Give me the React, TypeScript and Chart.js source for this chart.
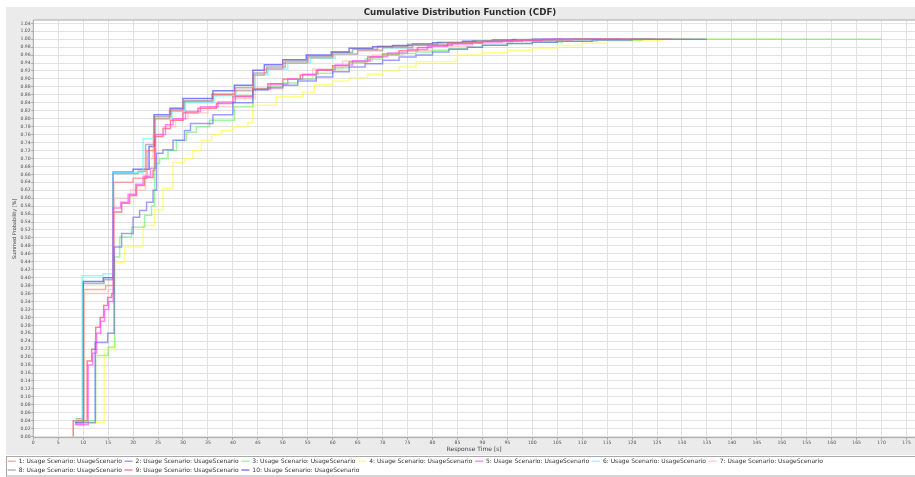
import React, { useEffect, useRef } from "react";
import { Chart, registerables } from "chart.js";

Chart.register(...registerables);

// Empirical CDF steps per usage scenario: [response time (s), cumulative probability]
const scenario1: [number, number][] = [
  [8.4, 0.04], [10.1, 0.37], [14.5, 0.38], [16.1, 0.64], [20.0, 0.65], [22.8, 0.72], [24.3, 0.8],
  [27.3, 0.82], [30.0, 0.843], [36.0, 0.86], [40.3, 0.87], [44.0, 0.91], [46.3, 0.925], [50, 0.94],
  [55, 0.953], [60, 0.963], [65, 0.972], [70, 0.979], [76, 0.985], [83, 0.991], [90, 0.995],
  [98, 0.998], [108, 1.0], [128, 1.0],
];
const scenario2: [number, number][] = [
  [8.5, 0.035], [12.4, 0.237], [14.9, 0.26], [16.2, 0.477], [17.7, 0.511], [20.0, 0.552], [21.3, 0.569],
  [22.7, 0.59], [24.0, 0.62], [24.7, 0.713], [26, 0.722], [28, 0.746], [30.3, 0.77], [31.5, 0.788],
  [36, 0.81], [40, 0.84], [44, 0.872], [47, 0.878], [50, 0.884], [53, 0.895], [56.7, 0.905],
  [60, 0.918], [63.3, 0.93], [66.5, 0.938], [70, 0.947], [73.3, 0.955], [76.7, 0.96], [80, 0.968],
  [83.3, 0.975], [87, 0.98], [90, 0.985], [95, 0.989], [100, 0.992], [105, 0.995], [112, 0.998],
  [120, 1.0], [135, 1.0],
];
const scenario3: [number, number][] = [
  [8.6, 0.04], [12.5, 0.204], [15.0, 0.225], [16.3, 0.452], [17.3, 0.502], [19.7, 0.527], [22.3, 0.557],
  [23.7, 0.58], [24.3, 0.687], [25.3, 0.7], [27, 0.72], [28.7, 0.745], [30.7, 0.766], [32.7, 0.78],
  [35.3, 0.796], [40.3, 0.83], [44, 0.874], [47, 0.882], [50, 0.89], [53, 0.9], [56.7, 0.914],
  [60, 0.928], [63.3, 0.94], [66.5, 0.95], [70, 0.96], [73.3, 0.964], [76.7, 0.968], [80, 0.972],
  [83.3, 0.976], [87, 0.98], [90, 0.985], [95, 0.989], [100, 0.992], [106, 0.995], [113, 0.998],
  [122, 1.0], [170, 1.0],
];
const scenario4: [number, number][] = [
  [8.8, 0.035], [14.2, 0.22], [16.3, 0.439], [18.3, 0.477], [22.0, 0.531], [24.3, 0.57], [26.0, 0.625],
  [28.0, 0.69], [30.3, 0.7], [32.0, 0.72], [33.7, 0.746], [35.7, 0.76], [37.7, 0.77], [40, 0.779],
  [43, 0.79], [44, 0.834], [48.7, 0.855], [54, 0.867], [56.3, 0.886], [60, 0.895], [63.3, 0.903],
  [67, 0.912], [70, 0.92], [73.3, 0.93], [76.7, 0.943], [84.7, 0.948], [85, 0.96], [90, 0.966],
  [95, 0.972], [100, 0.978], [105, 0.984], [110, 0.99], [115, 0.994], [120, 0.997], [126, 1.0],
  [150, 1.0],
];
const scenario5: [number, number][] = [
  [8.3, 0.03], [11.0, 0.18], [11.9, 0.21], [12.7, 0.26], [13.5, 0.29], [14.3, 0.32], [15.1, 0.34],
  [16.0, 0.575], [17.5, 0.59], [19.0, 0.61], [20.5, 0.635], [22.0, 0.655], [23.5, 0.675], [24.5, 0.76],
  [26.5, 0.785], [28, 0.8], [30.5, 0.818], [33.5, 0.83], [37, 0.842], [40.5, 0.858], [44, 0.874],
  [47.5, 0.887], [51, 0.9], [54, 0.912], [57, 0.923], [60.5, 0.935], [64, 0.946], [67.5, 0.956],
  [71, 0.965], [75, 0.974], [79, 0.982], [83, 0.988], [88, 0.993], [94, 0.997], [102, 1.0], [120, 1.0],
];
const scenario6: [number, number][] = [
  [8.2, 0.04], [9.8, 0.405], [14.0, 0.41], [16.0, 0.665], [22.0, 0.75], [24.5, 0.8], [27.8, 0.818],
  [30.5, 0.84], [36.2, 0.858], [40.6, 0.872], [44.5, 0.91], [47, 0.925], [51, 0.94], [55.5, 0.952],
  [60.5, 0.962], [65, 0.97], [70, 0.978], [76, 0.985], [82, 0.99], [89, 0.995], [97, 0.998],
  [106, 1.0], [125, 1.0],
];
const scenario7: [number, number][] = [
  [8.6, 0.03], [10.2, 0.36], [15.0, 0.37], [16.2, 0.6], [19.5, 0.62], [22.5, 0.7], [24.0, 0.76],
  [26.0, 0.78], [28.5, 0.8], [31, 0.815], [35, 0.83], [40, 0.85], [44.5, 0.875], [50, 0.9],
  [56, 0.925], [62, 0.945], [68, 0.96], [74, 0.972], [80, 0.982], [88, 0.99], [96, 0.995],
  [105, 0.999], [114, 1.0], [132, 1.0],
];
const scenario8: [number, number][] = [
  [8.5, 0.045], [10.0, 0.385], [14.2, 0.395], [16.0, 0.662], [21.0, 0.668], [22.5, 0.735], [24.4, 0.805],
  [27.6, 0.823], [30.3, 0.845], [35.8, 0.862], [40.5, 0.878], [44.2, 0.915], [46.8, 0.93], [50.5, 0.945],
  [55, 0.957], [60, 0.967], [64, 0.975], [69, 0.982], [75, 0.987], [81, 0.992], [88, 0.996],
  [96, 0.999], [104, 1.0], [122, 1.0],
];
const scenario9: [number, number][] = [
  [8.0, 0.0], [8.0, 0.04], [10.8, 0.19], [11.7, 0.22], [12.5, 0.275], [13.4, 0.3], [14.1, 0.33],
  [14.9, 0.35], [15.7, 0.36], [16.1, 0.565], [17.7, 0.587], [19.3, 0.607], [20.7, 0.632], [22.3, 0.652],
  [24.0, 0.67], [24.3, 0.755], [26, 0.775], [27.5, 0.796], [30, 0.815], [33, 0.826], [36.7, 0.838],
  [40, 0.855], [44, 0.876], [47, 0.888], [50, 0.899], [53.5, 0.91], [56.7, 0.922], [60, 0.933],
  [63.3, 0.943], [67, 0.955], [70, 0.963], [73.3, 0.971], [77, 0.979], [80, 0.985], [84, 0.99],
  [90, 0.995], [96, 0.998], [105, 1.0], [124, 1.0],
];
const scenario10: [number, number][] = [
  [8.3, 0.035], [10.0, 0.39], [14.0, 0.4], [16.0, 0.666], [20.0, 0.673], [23.2, 0.73], [24.2, 0.81],
  [27.4, 0.826], [30.0, 0.851], [36.0, 0.87], [40.3, 0.884], [44.0, 0.922], [46.3, 0.936], [50.0, 0.948],
  [54.7, 0.96], [59.7, 0.968], [63.3, 0.977], [68.0, 0.981], [72, 0.984], [76, 0.988], [80, 0.991],
  [86, 0.995], [92, 0.998], [100, 1.0], [118, 1.0],
];

const seriesLabels = [
  "1: Usage Scenario: UsageScenario",
  "2: Usage Scenario: UsageScenario",
  "3: Usage Scenario: UsageScenario",
  "4: Usage Scenario: UsageScenario",
  "5: Usage Scenario: UsageScenario",
  "6: Usage Scenario: UsageScenario",
  "7: Usage Scenario: UsageScenario",
  "8: Usage Scenario: UsageScenario",
  "9: Usage Scenario: UsageScenario",
  "10: Usage Scenario: UsageScenario",
];

const seriesColors = [
  "rgba(255,90,90,0.5)",
  "rgba(80,80,255,0.55)",
  "rgba(70,235,70,0.5)",
  "rgba(255,255,60,0.6)",
  "rgba(255,60,255,0.6)",
  "rgba(70,255,255,0.6)",
  "rgba(255,170,170,0.5)",
  "rgba(110,110,110,0.5)",
  "rgba(255,50,70,0.6)",
  "rgba(60,60,255,0.65)",
];

const seriesData = [
  scenario1, scenario2, scenario3, scenario4, scenario5,
  scenario6, scenario7, scenario8, scenario9, scenario10,
];

const chartTitle = "Cumulative Distribution Function (CDF)";
const xAxisTitle = "Response Time [s]";
const yAxisTitle = "Summed Probability [%]";
const xTickStep = 5;
const xTickLast = 175;
const yTickStep = 0.02;
const yTickLast = 1.04;

const FONT = "'DejaVu Sans', sans-serif";

// Grey panel, white plot area and legend frame behind everything
const backdrop = {
  id: "backdrop",
  beforeDraw(chart: any) {
    const { ctx, chartArea: a } = chart;
    ctx.save();
    ctx.fillStyle = "#ffffff";
    ctx.fillRect(0, 0, chart.width, chart.height);
    ctx.fillStyle = "#ebebeb";
    ctx.fillRect(6, 7, chart.width - 6, 448);
    ctx.fillStyle = "#ffffff";
    ctx.fillRect(a.left, a.top, a.right - a.left, a.bottom - a.top);
    ctx.strokeStyle = "#a9a9a9";
    ctx.lineWidth = 1;
    ctx.strokeRect(6.5, 456.5, chart.width, 19.5);
    ctx.restore();
  },
  afterDatasetsDraw(chart: any) {
    const { ctx, chartArea: a } = chart;
    ctx.save();
    ctx.strokeStyle = "#a8a8a8";
    ctx.lineWidth = 1;
    ctx.beginPath();
    ctx.moveTo(a.left, a.bottom);
    ctx.lineTo(a.left, a.top);
    ctx.lineTo(a.right, a.top);
    ctx.moveTo(a.left, a.bottom);
    ctx.lineTo(a.right, a.bottom);
    ctx.stroke();
    ctx.restore();
  },
};

export default function App() {
  const canvasRef = useRef<HTMLCanvasElement | null>(null);

  useEffect(() => {
    const canvas = canvasRef.current;
    if (!canvas) return;

    const datasets = seriesData.map((pts, i) => ({
      label: seriesLabels[i],
      data: pts.map(([x, y]) => ({ x, y })),
      borderColor: seriesColors[i],
      backgroundColor: seriesColors[i],
      borderWidth: 1.5,
      pointRadius: 0,
      stepped: "before" as const,
      fill: false,
      tension: 0,
    }));

    const chart = new Chart(canvas, {
      type: "line",
      data: { datasets },
      plugins: [backdrop],
      options: {
        animation: false,
        responsive: false,
        devicePixelRatio: 1,
        layout: { padding: { left: 5, right: 0, top: 0, bottom: 0 } },
        plugins: {
          title: {
            display: true,
            text: chartTitle,
            color: "#2e2e2e",
            font: { family: FONT, size: 8.7, weight: "bold" },
            padding: { top: 7.5, bottom: 2.06 },
          },
          legend: {
            position: "bottom",
            align: "start",
            labels: {
              usePointStyle: true,
              pointStyle: "line",
              pointStyleWidth: 8,
              padding: 2.7,
              color: "#333333",
              font: { family: FONT, size: 6 },
            },
          },
          tooltip: { enabled: false },
        },
        scales: {
          x: {
            type: "linear",
            min: 0,
            max: 176.7,
            afterFit: (s: any) => {
              s.height = 18;
            },
            afterBuildTicks: (s: any) => {
              s.ticks = s.ticks.filter(
                (t: any) => t.value >= -1e-9 && t.value <= xTickLast + 1e-9
              );
            },
            ticks: {
              stepSize: xTickStep,
              includeBounds: false,
              autoSkip: false,
              maxRotation: 0,
              padding: 0,
              color: "#555555",
              font: { family: FONT, size: 4.6 },
              callback: (v: any) => String(Math.round(Number(v))),
            },
            grid: { color: "#e2e2e2", lineWidth: 1, drawTicks: true, tickLength: 2, tickColor: "#a0a0a0" },
            border: { display: false },
            title: {
              display: true,
              text: xAxisTitle,
              color: "#444444",
              font: { family: FONT, size: 6 },
              padding: { top: 0, bottom: 2.4 },
            },
          },
          y: {
            type: "linear",
            min: -0.0025,
            max: 1.0483,
            afterFit: (s: any) => {
              s.width = 28.3;
            },
            afterBuildTicks: (s: any) => {
              s.ticks = s.ticks.filter(
                (t: any) => t.value >= -1e-9 && t.value <= yTickLast + 1e-9
              );
            },
            ticks: {
              stepSize: yTickStep,
              includeBounds: false,
              autoSkip: false,
              padding: 0.6,
              color: "#555555",
              font: { family: FONT, size: 4.6 },
              callback: (v: any) => Number(v).toFixed(2),
            },
            grid: { color: "#e2e2e2", lineWidth: 1, drawTicks: true, tickLength: 2, tickColor: "#a0a0a0" },
            border: { display: false },
            title: {
              display: true,
              text: yAxisTitle,
              color: "#444444",
              font: { family: FONT, size: 5 },
              padding: { top: 7, bottom: 0 },
            },
          },
        },
      },
    });

    return () => chart.destroy();
  }, []);

  return (
    <div
      style={{
        position: "absolute",
        left: 0,
        top: 0,
        width: 915,
        height: 477,
        overflow: "hidden",
        background: "#ffffff",
      }}
    >
      <canvas ref={canvasRef} width={915} height={483} style={{ display: "block" }} />
    </div>
  );
}
